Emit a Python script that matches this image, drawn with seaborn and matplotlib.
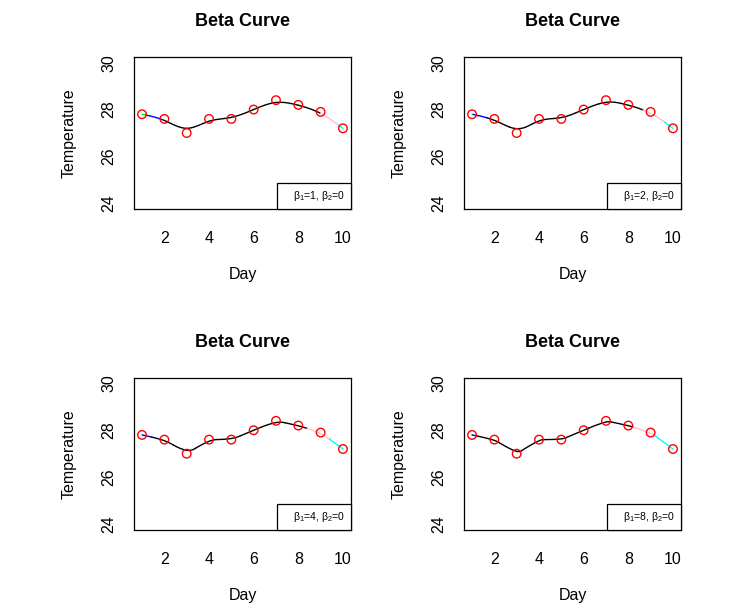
import matplotlib
matplotlib.use("Agg")
import matplotlib.pyplot as plt
import matplotlib.patches as mpatches
import seaborn as sns
import numpy as np
import pandas as pd

# data
days = [1, 2, 3, 4, 5, 6, 7, 8, 9, 10]
temps = [27.8, 27.6, 27.0, 27.6, 27.6, 28.0, 28.4, 28.2, 27.9, 27.2]
bias_values = [1, 2, 4, 8]   # beta1
tension = 0                  # beta2
seg_colors_first = ["#00FF00", "#0000FF"]
seg_colors_last = ["#FFC0CB", "#00FFFF"]


def betaBasis(u, b1, b2):
    # uniformly shaped beta-spline basis (Barsky)
    d = 2*b1**3 + 4*b1**2 + 4*b1 + b2 + 2
    bm2 = 2*b1**3*(1-u)**3
    bm1 = (2*b1**3*u*(u**2-3*u+3) + 2*b1**2*(u**3-3*u**2+2)
           + 2*b1*(u**3-3*u+2) + b2*(2*u**3-3*u**2+1))
    b0 = 2*b1**2*u**2*(-u+3) + 2*b1*u*(-u**2+3) + b2*u**2*(-2*u+3) + 2*(-u**3+1)
    bp1 = 2*u**3
    return bm2/d, bm1/d, b0/d, bp1/d


def betaSegments(x, y, b1, b2, n=40):
    # endpoints are tripled so the curve starts and ends on the data
    vx = [x[0]]*2 + list(x) + [x[-1]]*2
    vy = [y[0]]*2 + list(y) + [y[-1]]*2
    u = np.linspace(0, 1, n)
    w = betaBasis(u, b1, b2)
    segs = []
    for i in range(2, len(vx)-1):
        sx = sum(w[r]*vx[i-2+r] for r in range(4))
        sy = sum(w[r]*vy[i-2+r] for r in range(4))
        segs.append(pd.DataFrame({"Day": sx, "Temperature": sy}))
    return segs


sns.set_theme(style="white")
plt.rcParams["font.family"] = ["Liberation Sans", "DejaVu Sans"]
plt.rcParams["mathtext.fontset"] = "custom"
plt.rcParams["mathtext.rm"] = "Liberation Sans"
plt.rcParams["mathtext.it"] = "Liberation Sans:italic"

W, H = 734, 614
fig = plt.figure(figsize=(W/100, H/100), dpi=100)
fig.patch.set_facecolor("white")

lefts = [134, 464]
tops = [57, 377.7]
aw, ah = 217, 152

points = pd.DataFrame({"Day": days, "Temperature": temps})

for k, b1 in enumerate(bias_values):
    row, col = divmod(k, 2)
    ax = fig.add_axes([lefts[col]/W, 1-(tops[row]+ah)/H, aw/W, ah/H])
    segs = betaSegments(days, temps, b1, tension)
    colors = seg_colors_first + ["black"]*(len(segs)-4) + seg_colors_last
    for seg, c in zip(segs, colors):
        sns.lineplot(data=seg, x="Day", y="Temperature", ax=ax, color=c,
                     lw=1.0, sort=False, estimator=None)
    sns.scatterplot(data=points, x="Day", y="Temperature", ax=ax, s=38,
                    facecolor="none", edgecolor="red", linewidth=1.0, zorder=5)

    ax.set_xlim(0.64, 10.36)
    ax.set_ylim(23.76, 30.24)
    ax.set_xticks([2, 4, 6, 8, 10])
    ax.set_yticks([24, 25, 26, 27, 28, 29, 30])
    ax.set_yticklabels(["24", "", "26", "", "28", "", "30"])
    ax.tick_params(axis="both", direction="out", length=6.5, width=0.8,
                   color="black", labelsize=11.5, labelcolor="black")
    ax.tick_params(axis="x", pad=9.5)
    ax.tick_params(axis="y", pad=6, labelrotation=90)
    for lab in ax.get_yticklabels():
        lab.set_va("center")
    for sp in ax.spines.values():
        sp.set_visible(True)
        sp.set_color("black")
        sp.set_linewidth(0.9)

    ax.set_xlabel("Day", fontsize=11.5, color="black")
    ax.set_ylabel("Temperature", fontsize=11.5, color="black")
    ax.xaxis.label.set_va("center")
    ax.yaxis.label.set_va("center")
    ax.xaxis.set_label_coords(0.5, -66/ah)
    ax.yaxis.set_label_coords(-65/aw, 0.5)
    ax.text(0.5, 1+35/ah, "Beta Curve", transform=ax.transAxes, ha="center",
            va="center", fontsize=13, fontweight="bold", color="black")

    # legend box in the bottom right corner
    bx = (277-134)/aw
    bh = (209-183.3)/ah
    ax.add_patch(mpatches.Rectangle((bx, 0), 1-bx, bh, transform=ax.transAxes,
                                    facecolor="white", edgecolor="black",
                                    lw=0.9, zorder=6, clip_on=False))
    ax.text(1-6/aw, bh*0.5, "β$_1$=%d, β$_2$=%d" % (b1, tension),
            transform=ax.transAxes, ha="right", va="center", fontsize=7.5,
            color="black", zorder=7)

fig.savefig("out.png", dpi=100, facecolor="white")
